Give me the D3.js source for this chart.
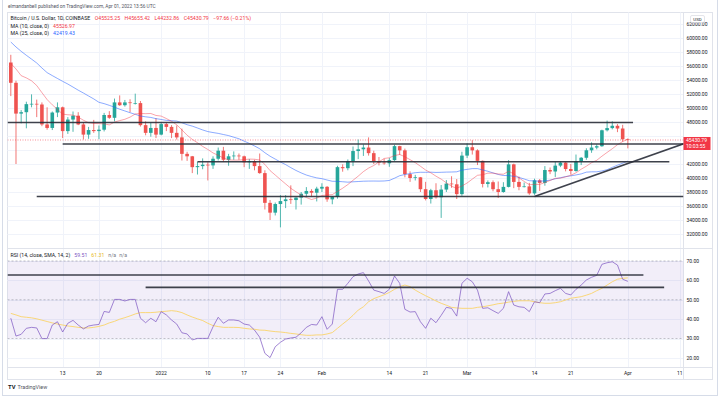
<!DOCTYPE html>
<html>
<head>
<meta charset="utf-8">
<script src="https://cdn.jsdelivr.net/npm/d3@7"></script>
<style>
body { margin: 0; background: #fff; }
text { font-family: Roboto, "Liberation Sans", sans-serif; }
</style>
</head>
<body>
<div id="chart"></div>
<script>
// BTC/USD daily candles, Dec 3 2021 - Apr 1 2022
var opens = [56500,53600,49200,49400,50550,50600,50500,47650,47150,49350,
50100,46700,48350,48900,47650,46200,46850,46700,46900,49000,
48600,50800,50400,50800,50700,50700,47550,46450,47150,46200,
47700,47300,46450,45800,43450,43100,41550,41700,41900,41800,
42750,43900,42600,43100,43200,43100,42250,42400,41700,40700,
36450,35050,36280,36700,36950,36850,37200,37750,38150,37900,
38480,38740,36950,37300,41550,41400,42400,43850,44100,44350,
43550,42400,42200,42100,42550,44550,43950,40550,40000,40100,
38400,37000,38250,37250,38350,39200,39100,37700,43200,44400,
43950,42450,39150,39400,38400,38000,38730,41950,39440,38730,
38800,37800,39670,39300,41140,40930,41770,42200,41280,41000,
42370,42890,43960,44350,44540,46820,47130,47460,47070,45525];

var highs = [57600,53900,49700,50900,51950,51200,50800,50100,49500,50800,
50200,48700,49500,49400,48000,47300,48300,47500,49300,49550,
51350,51800,51150,51250,52050,51000,48100,47900,48550,47950,
47950,47550,47500,47050,43750,43150,42300,42800,42250,43100,
44350,44450,43450,43800,43500,43200,42700,42600,43500,41100,
36850,36500,37550,37550,38950,37250,38000,38700,38400,38750,
39250,38850,37400,41750,41950,42650,44500,45500,44800,45800,
43900,43000,42750,42850,44750,44600,44200,40950,40450,40150,
39450,38450,39250,39000,39700,40250,39850,43750,44950,45400,
44100,42500,39650,39650,39500,39400,42550,42050,40200,39350,
39300,39900,39850,41700,41500,42300,42400,42300,42000,43350,
43000,44250,45100,44800,46900,48200,48100,47700,47600,45655];

var lows = [51700,42000,47800,47100,50100,48700,47400,46900,46850,48700,
45700,46300,46600,47550,45500,45600,46450,45550,46650,48450,
48100,50300,50200,49400,50500,47350,46100,45900,45700,46100,
46700,45700,45500,42500,42450,40700,40500,41250,39650,41300,
42500,42300,41750,42600,42600,41550,41300,41100,40600,35500,
34000,34650,32950,35700,36300,35500,36200,37300,37400,36650,
38000,36600,36250,37050,40900,41100,41700,42700,43150,43200,
42000,41800,41900,41600,42450,43300,40100,39450,39650,38000,
36800,36350,37050,34300,38000,38600,37000,37450,42850,43350,
41850,38650,38650,38100,37150,37900,38650,38550,38250,38650,
37600,37600,38150,38900,40550,40150,41550,40950,40500,40900,
41850,42600,43600,44100,44450,46650,46950,46550,45200,44232];

var closes = [53600,49200,49400,50550,50600,50500,47650,47150,49350,50100,
46700,48350,48900,47650,46200,46850,46700,46900,49000,48600,
50800,50400,50800,50700,50700,47550,46450,47150,46200,47700,
47300,46450,45800,43450,43100,41550,41700,41900,41800,42750,
43900,42600,43100,43200,43100,42250,42400,41700,40700,36450,
35050,36280,36700,36950,36850,37200,37750,38150,37900,38480,
38740,36950,37300,41550,41400,42400,43850,44100,44350,43550,
42400,42200,42100,42550,44550,43950,40550,40000,40100,38400,
37000,38250,37250,38350,39200,39100,37700,43200,44400,43950,
42450,39150,39400,38400,38000,38730,41950,39440,38730,38800,
37800,39670,39300,41140,40930,41770,42200,41280,41000,42370,
42890,43960,44350,44540,46820,47130,47460,47070,45528,45431];

var ma10 = [56370,55575,54620,54300,53885,53210,52195,51210,50450,49810,
49120,49035,48985,48695,48255,47890,47795,47770,47735,47585,
47995,48200,48390,48695,49145,49215,49190,49215,48935,48845,
48495,48100,47600,46875,46115,45515,45040,44515,44075,43580,
43240,42855,42585,42560,42560,42630,42700,42680,42570,41940,
41055,40423,39783,39158,38533,38028,37563,37208,36928,37131,
37500,37567,37627,38087,38542,39062,39672,40267,40912,41419,
41785,42310,42790,42890,43205,43360,43030,42620,42195,41680,
41140,40745,40260,39840,39305,38820,38535,38855,39285,39840,
40385,40475,40690,40695,40575,40538,40963,40587,40020,39505,
39040,39092,39082,39356,39649,39953,39978,40162,40389,40746,
41255,41684,42189,42529,43118,43654,44180,44759,45212,45527];

var ma25 = [59426,58718,58098,57528,56986,56430,55716,55058,54628,54218,
53810,53420,52988,52546,52142,51714,51296,50814,50624,50378,
50120,49824,49576,49326,49094,48852,48742,48652,48478,48362,
48234,48186,48132,47896,47616,47410,47144,46864,46630,46492,
46374,46210,46058,45826,45606,45264,44944,44580,44180,43610,
43110,42703,42285,41915,41481,41077,40729,40423,40201,40016,
39904,39714,39530,39520,39466,39406,39456,39496,39542,39560,
39566,39558,39574,39648,39972,40328,40499,40631,40757,40819,
40811,40831,40795,40813,40842,40856,40886,41122,41236,41338,
41340,41152,40964,40726,40504,40357,40347,40241,40088,39858,
39612,39577,39549,39590,39692,39882,40040,40202,40308,40434,
40586,40836,40882,40888,41003,41190,41522,41829,42114,42419];

var rsi = [40.5,31.3,32.2,35.3,35.8,35.5,30.0,30.0,37.0,38.7,
33.4,37.9,39.4,37.0,35.0,36.5,37.0,37.3,44.0,43.5,
50.2,50.2,49.4,50.2,50.2,40.5,38.2,40.5,38.7,43.9,
42.2,39.6,37.5,33.0,32.4,29.3,30.1,30.1,30.1,36.1,
41.0,37.9,39.6,39.6,39.2,37.5,37.0,34.4,30.7,22.4,
20.2,25.8,28.1,29.8,30.3,30.7,33.0,35.8,37.3,37.0,
41.3,34.8,37.5,55.4,55.4,58.5,61.9,63.3,64.0,59.7,
55.0,54.2,53.3,55.4,62.3,58.5,45.1,43.7,43.9,38.7,
35.3,40.5,38.2,42.0,46.1,45.6,41.6,58.5,61.1,59.3,
55.0,45.6,45.9,44.4,43.0,45.6,54.2,47.3,46.4,46.1,
43.9,49.0,48.5,53.0,53.3,54.7,55.9,53.3,52.5,55.4,
57.6,60.2,61.6,62.6,68.3,69.1,69.6,67.9,60.6,59.51];

var rsiSma = [43.0,42.2,41.3,41.0,40.7,40.2,39.5,38.8,38.1,37.5,
37.0,36.5,36.2,35.8,35.5,35.5,35.8,36.3,37.0,38.1,
38.9,40.0,40.8,41.7,42.7,43.4,43.4,43.4,43.6,43.9,
44.1,44.4,44.1,43.4,42.2,41.1,40.2,39.3,37.9,36.7,
36.2,35.8,35.8,35.8,35.7,35.3,35.0,34.8,34.4,34.3,
33.9,33.6,33.4,33.1,32.7,32.4,32.0,31.7,31.7,31.9,
31.9,32.4,33.1,35.3,37.5,39.6,42.0,44.7,46.4,49.0,
50.6,51.6,52.6,53.8,55.4,56.8,57.6,56.8,55.0,53.5,
52.1,50.8,49.4,48.2,47.2,46.1,45.8,45.6,45.6,45.6,
46.1,46.4,46.9,47.4,48.0,48.3,48.8,49.2,49.5,49.5,
49.5,49.0,48.5,48.2,48.2,48.5,49.0,49.9,50.8,51.2,
51.6,52.4,53.3,54.7,55.9,57.6,59.3,60.6,61.1,61.31];

var priceTicks = d3.range(32000, 62001, 2000);
var rsiTicks = [20, 30, 40, 50, 60, 70];
var timeTickDates = ["2021-12-13","2021-12-20","2022-01-01","2022-01-10","2022-01-17","2022-01-24",
  "2022-02-01","2022-02-14","2022-02-21","2022-03-01","2022-03-14","2022-03-21","2022-04-01","2022-04-11"];
var timeTickLabels = ["13","20","2022","10","17","24","Feb","14","21","Mar","14","21","Apr","11"];
var ohlcLabels = ["O45525.25", "H45655.42", "L44232.86", "C45430.79", "\u221297.66 (\u22120.21%)"];

// drawn support / resistance lines (null = runs to the chart edge)
var priceLevels = [
  {price: 47930, from: null, to: "2022-04-02"},
  {price: 44860, from: "2021-12-13", to: null},
  {price: 42330, from: "2022-01-08", to: "2022-04-09"},
  {price: 37360, from: "2021-12-08", to: null}
];
var trendLine = [["2022-03-14", 37360], ["2022-04-12", 44960]];
var rsiLevels = [
  {value: 62.8, from: null, to: "2022-04-04"},
  {value: 56.4, from: "2021-12-29", to: "2022-04-08"}
];

var lastPrice = 45430.79;

var svgWidth = 720, svgHeight = 396;
var plotLeft = 7.5, plotRight = 683.5, frameRight = 712.5;
var frameTop = 12.5, paneSplit = 248.5, rsiBottom = 367.5, frameBottom = 379.5;

var svg = d3.select("#chart").append("svg")
  .attr("width", svgWidth).attr("height", svgHeight);

var dates = d3.utcDay.range(new Date(Date.UTC(2021, 11, 3)), new Date(Date.UTC(2022, 3, 2)));
var parse = d3.utcParse("%Y-%m-%d");

var x = d3.scaleUtc()
  .domain([new Date(Date.UTC(2021, 11, 3)), new Date(Date.UTC(2022, 3, 11))])
  .range([10.8, 679.7]);
var yPrice = d3.scaleLinear().domain([32000, 62000]).range([234, 24]);
var yRsi = d3.scaleLinear().domain([20, 70]).range([358, 261]);

var upColor = "#26a69a", downColor = "#ef5350";
var axisText = "#131722";
var fs = 5.0, legendFs = 5.2;

svg.append("rect").attr("width", svgWidth).attr("height", svgHeight).attr("fill", "#fff");

// outer + inner frame
svg.append("rect").attr("x", 2.5).attr("y", -2).attr("width", 715).attr("height", 397.5)
  .attr("fill", "none").attr("stroke", "#d6dce8");
svg.append("rect").attr("x", plotLeft).attr("y", frameTop)
  .attr("width", frameRight - plotLeft).attr("height", frameBottom - frameTop)
  .attr("fill", "none").attr("stroke", "#e0e3eb");

var defs = svg.append("defs");
defs.append("clipPath").attr("id", "clipPrice").append("rect")
  .attr("x", plotLeft).attr("y", frameTop).attr("width", plotRight - plotLeft).attr("height", paneSplit - frameTop);
defs.append("clipPath").attr("id", "clipRsi").append("rect")
  .attr("x", plotLeft).attr("y", paneSplit).attr("width", plotRight - plotLeft).attr("height", rsiBottom - paneSplit);

// grid
var grid = svg.append("g").attr("stroke", "#f0f3fa").attr("stroke-width", 1);
grid.selectAll(".gy").data(priceTicks).enter().append("line")
  .attr("x1", plotLeft).attr("x2", plotRight)
  .attr("y1", d => Math.round(yPrice(d)) + 0.5).attr("y2", d => Math.round(yPrice(d)) + 0.5);
grid.selectAll(".gr").data(rsiTicks).enter().append("line")
  .attr("x1", plotLeft).attr("x2", plotRight)
  .attr("y1", d => Math.round(yRsi(d)) + 0.5).attr("y2", d => Math.round(yRsi(d)) + 0.5);
grid.selectAll(".gx").data(timeTickDates).enter().append("line")
  .attr("x1", d => Math.round(x(parse(d))) + 0.5).attr("x2", d => Math.round(x(parse(d))) + 0.5)
  .attr("y1", frameTop).attr("y2", rsiBottom);

// separators
var sep = svg.append("g").attr("stroke", "#e0e3eb");
sep.append("line").attr("x1", plotRight).attr("x2", plotRight).attr("y1", frameTop).attr("y2", frameBottom);
sep.append("line").attr("x1", plotLeft).attr("x2", frameRight).attr("y1", paneSplit).attr("y2", paneSplit);
sep.append("line").attr("x1", plotLeft).attr("x2", frameRight).attr("y1", rsiBottom).attr("y2", rsiBottom);

// ---------- price pane ----------
var pricePane = svg.append("g").attr("clip-path", "url(#clipPrice)");

// last price dotted line
pricePane.append("line")
  .attr("x1", plotLeft).attr("x2", plotRight)
  .attr("y1", yPrice(lastPrice)).attr("y2", yPrice(lastPrice))
  .attr("stroke", "#f23645").attr("stroke-width", 0.7).attr("stroke-dasharray", "1,1.5").attr("opacity", 0.8);

var candles = pricePane.append("g").selectAll("g").data(dates).enter().append("g");
candles.append("line")
  .attr("x1", (d, i) => x(d)).attr("x2", (d, i) => x(d))
  .attr("y1", (d, i) => yPrice(highs[i])).attr("y2", (d, i) => yPrice(lows[i]))
  .attr("stroke", (d, i) => closes[i] >= opens[i] ? upColor : downColor)
  .attr("stroke-width", 0.8);
candles.append("rect")
  .attr("x", (d, i) => x(d) - 1.8).attr("width", 3.6)
  .attr("y", (d, i) => yPrice(Math.max(opens[i], closes[i])))
  .attr("height", (d, i) => Math.max(0.7, Math.abs(yPrice(opens[i]) - yPrice(closes[i]))))
  .attr("fill", (d, i) => closes[i] >= opens[i] ? upColor : downColor);

var lineFor = function (vals, yScale) {
  return d3.line().x((d, i) => x(dates[i])).y(d => yScale(d))(vals);
};
pricePane.append("path").attr("d", lineFor(ma25, yPrice))
  .attr("fill", "none").attr("stroke", "#2962ff").attr("stroke-opacity", 0.6).attr("stroke-width", 0.9);
pricePane.append("path").attr("d", lineFor(ma10, yPrice))
  .attr("fill", "none").attr("stroke", "#f23645").attr("stroke-opacity", 0.5).attr("stroke-width", 0.9);

// drawn levels
var levelColor = "#2a2e39";
pricePane.selectAll(".lvl").data(priceLevels).enter().append("line")
  .attr("x1", d => d.from ? x(parse(d.from)) : plotLeft)
  .attr("x2", d => d.to ? x(parse(d.to)) : plotRight)
  .attr("y1", d => yPrice(d.price)).attr("y2", d => yPrice(d.price))
  .attr("stroke", levelColor).attr("stroke-width", 1.6).attr("opacity", 0.9);
pricePane.append("line")
  .attr("x1", x(parse(trendLine[0][0]))).attr("y1", yPrice(trendLine[0][1]))
  .attr("x2", x(parse(trendLine[1][0]))).attr("y2", yPrice(trendLine[1][1]))
  .attr("stroke", levelColor).attr("stroke-width", 1.6).attr("opacity", 0.9);

// ---------- RSI pane ----------
var rsiPane = svg.append("g").attr("clip-path", "url(#clipRsi)");
rsiPane.append("rect")
  .attr("x", plotLeft).attr("width", plotRight - plotLeft)
  .attr("y", yRsi(70)).attr("height", yRsi(30) - yRsi(70))
  .attr("fill", "#7e57c2").attr("fill-opacity", 0.1);
rsiPane.selectAll(".band").data([70, 50, 30]).enter().append("line")
  .attr("x1", plotLeft).attr("x2", plotRight)
  .attr("y1", d => yRsi(d)).attr("y2", d => yRsi(d))
  .attr("stroke", "#787b86").attr("stroke-width", 0.6).attr("stroke-dasharray", "2,2").attr("opacity", 0.8);
rsiPane.append("path").attr("d", lineFor(rsiSma, yRsi))
  .attr("fill", "none").attr("stroke", "#f9d46a").attr("stroke-width", 0.9);
rsiPane.append("path").attr("d", lineFor(rsi, yRsi))
  .attr("fill", "none").attr("stroke", "#7e57c2").attr("stroke-opacity", 0.8).attr("stroke-width", 0.9);
rsiPane.selectAll(".rl").data(rsiLevels).enter().append("line")
  .attr("x1", d => d.from ? x(parse(d.from)) : plotLeft)
  .attr("x2", d => d.to ? x(parse(d.to)) : plotRight)
  .attr("y1", d => yRsi(d.value)).attr("y2", d => yRsi(d.value))
  .attr("stroke", levelColor).attr("stroke-width", 1.6).attr("opacity", 0.9);

// ---------- axes ----------
var badgeTop = yPrice(lastPrice) - 3;
var badgeHeight = 13;

var rightAxis = svg.append("g").attr("font-size", fs).attr("fill", axisText);
// labels hidden under the last-price badge are skipped, as TradingView does
rightAxis.selectAll(".pt")
  .data(priceTicks.filter(d => yPrice(d) < badgeTop - 1.5 || yPrice(d) > badgeTop + badgeHeight + 1.5))
  .enter().append("text")
  .attr("x", 686.5).attr("y", d => yPrice(d)).attr("dy", "0.35em")
  .text(d => d3.format(".2f")(d));
rightAxis.selectAll(".rt").data(rsiTicks).enter().append("text")
  .attr("x", 686.5).attr("y", d => yRsi(d)).attr("dy", "0.35em")
  .text(d => d3.format(".2f")(d));

// USD badge
svg.append("rect").attr("x", 690.5).attr("y", 15.5).attr("width", 14).attr("height", 7).attr("rx", 1.5)
  .attr("fill", "#fff").attr("stroke", "#d1d4dc").attr("stroke-width", 0.6);
svg.append("text").attr("x", 697.5).attr("y", 19).attr("dy", "0.35em").attr("text-anchor", "middle")
  .attr("font-size", 4.4).attr("fill", axisText).text("USD");

// last price badge
svg.append("rect").attr("x", 683.5).attr("y", badgeTop).attr("width", 27).attr("height", badgeHeight)
  .attr("fill", "#f23645");
svg.append("text").attr("x", 686).attr("y", badgeTop + 3.6).attr("dy", "0.35em")
  .attr("font-size", fs).attr("fill", "#fff").text(d3.format(".2f")(lastPrice));
svg.append("text").attr("x", 686).attr("y", badgeTop + 9.4).attr("dy", "0.35em")
  .attr("font-size", fs).attr("fill", "#fff").text("10:03:55");

// time axis
svg.append("g").attr("font-size", fs).attr("fill", axisText)
  .selectAll("text").data(timeTickDates).enter().append("text")
  .attr("x", d => x(parse(d))).attr("y", 373.5).attr("dy", "0.35em").attr("text-anchor", "middle")
  .text((d, i) => timeTickLabels[i]);

// ---------- legends ----------
svg.append("text").attr("x", 8).attr("y", 6.5).attr("dy", "0.35em")
  .attr("font-size", 4.8).attr("fill", "#50535e")
  .text("elmandanbell published on TradingView.com, Apr 01, 2022 13:56 UTC");

var l1 = svg.append("text").attr("x", 10.5).attr("y", 18.5).attr("dy", "0.35em").attr("font-size", legendFs);
l1.append("tspan").attr("fill", axisText).text("Bitcoin / U.S. Dollar, 1D, COINBASE");
ohlcLabels.forEach(function (t) {
  l1.append("tspan").attr("dx", 4.5).attr("fill", "#f23645").text(t);
});

var l2 = svg.append("text").attr("x", 10.5).attr("y", 26.5).attr("dy", "0.35em").attr("font-size", legendFs);
l2.append("tspan").attr("fill", axisText).text("MA (10, close, 0)");
l2.append("tspan").attr("dx", 4).attr("fill", "#f23645").text("45526.97");

var l3 = svg.append("text").attr("x", 10.5).attr("y", 33.5).attr("dy", "0.35em").attr("font-size", legendFs);
l3.append("tspan").attr("fill", axisText).text("MA (25, close, 0)");
l3.append("tspan").attr("dx", 4).attr("fill", "#2962ff").text("42419.43");

var l4 = svg.append("text").attr("x", 10.5).attr("y", 255).attr("dy", "0.35em").attr("font-size", legendFs);
l4.append("tspan").attr("fill", axisText).text("RSI (14, close, SMA, 14, 2)");
l4.append("tspan").attr("dx", 4).attr("fill", "#7e57c2").text("59.51");
l4.append("tspan").attr("dx", 4).attr("fill", "#e8b923").text("61.31");
l4.append("tspan").attr("dx", 4).attr("fill", "#787b86").text("n/a");
l4.append("tspan").attr("dx", 3).attr("fill", "#787b86").text("n/a");

// TradingView mark
svg.append("text").attr("x", 8).attr("y", 387).attr("dy", "0.35em")
  .attr("font-size", 5.8).attr("font-weight", "bold").attr("fill", axisText).text("TV");
svg.append("text").attr("x", 17.5).attr("y", 387).attr("dy", "0.35em")
  .attr("font-size", 5.4).attr("fill", "#50535e").text("TradingView");
</script>
</body>
</html>
